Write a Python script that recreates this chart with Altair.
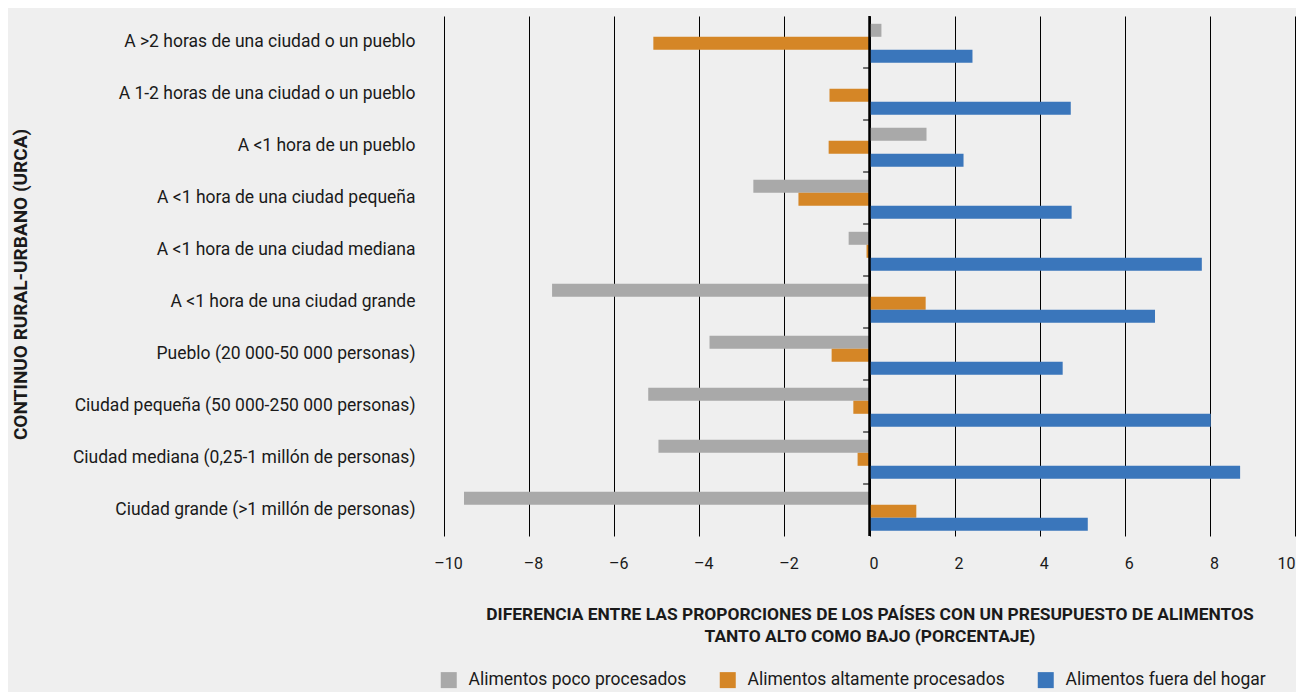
import altair as alt
import pandas as pd

categories = [
    "A >2 horas de una ciudad o un pueblo",
    "A 1-2 horas de una ciudad o un pueblo",
    "A <1 hora de un pueblo",
    "A <1 hora de una ciudad pequeña",
    "A <1 hora de una ciudad mediana",
    "A <1 hora de una ciudad grande",
    "Pueblo (20 000-50 000 personas)",
    "Ciudad pequeña (50 000-250 000 personas)",
    "Ciudad mediana (0,25-1 millón de personas)",
    "Ciudad grande (>1 millón de personas)",
]
series = [
    "Alimentos poco procesados",
    "Alimentos altamente procesados",
    "Alimentos fuera del hogar",
]
poco = [0.28, 0.0, 1.34, -2.73, -0.49, -7.46, -3.76, -5.20, -4.96, -9.53]
alta = [-5.08, -0.94, -0.96, -1.67, -0.07, 1.32, -0.89, -0.38, -0.28, 1.10]
fuera = [2.42, 4.73, 2.21, 4.75, 7.81, 6.71, 4.54, 8.02, 8.71, 5.13]
colors = ["#A9A9A9", "#D58626", "#3A76BB"]
x_ticks = [-10, -8, -6, -4, -2, 0, 2, 4, 6, 8, 10]

x_title = [
    "DIFERENCIA ENTRE LAS PROPORCIONES DE LOS PAÍSES CON UN PRESUPUESTO DE ALIMENTOS",
    "TANTO ALTO COMO BAJO (PORCENTAJE)",
]
y_title = "CONTINUO RURAL-URBANO (URCA)"

rows = []
for i, c in enumerate(categories):
    for s, vals in zip(series, [poco, alta, fuera]):
        rows.append({"cat": c, "serie": s, "valor": vals[i]})
df = pd.DataFrame(rows)
tick_df = pd.DataFrame({"cat": categories[1:]})
zero_df = pd.DataFrame({"cero": [0]})

FONT = "Roboto"
TXT = "#1a1a1a"

yscale = alt.Scale(domain=categories, paddingInner=0, paddingOuter=0)
xscale = alt.Scale(domain=[-10, 10], nice=False, zero=False)

bars = alt.Chart(df).mark_bar().encode(
    y=alt.Y(
        "cat:N",
        scale=yscale,
        sort=categories,
        axis=alt.Axis(
            title=y_title,
            titleFont=FONT,
            titleFontSize=19,
            titleFontWeight="bold",
            titleColor=TXT,
            titleX=-424,
            titleY=268,
            titleAngle=270,
            titleAlign="center",
            titleBaseline="middle",
            labelFont=FONT,
            labelFontSize=17.5,
            labelColor=TXT,
            labelPadding=29,
            labelLimit=420,
            domain=False,
            ticks=False,
            tickSize=0,
            grid=False,
        ),
    ),
    yOffset=alt.YOffset(
        "serie:N",
        sort=series,
        scale=alt.Scale(domain=series, paddingInner=0, paddingOuter=0.5, align=0.6),
    ),
    x=alt.X(
        "valor:Q",
        scale=xscale,
        axis=alt.Axis(
            values=x_ticks,
            grid=True,
            gridColor="#000000",
            gridWidth=1,
            domain=False,
            ticks=False,
            tickSize=0,
            labelFont=FONT,
            labelFontSize=16,
            labelColor=TXT,
            labelPadding=19,
            labelOffset={"condition": {"test": "datum.value == 10", "value": 0}, "value": 4},
            labelAlign={"condition": {"test": "datum.value == 10", "value": "right"}, "value": "center"},
            labelFlush=False,
            labelOverlap=False,
            labelExpr="datum.value < 0 ? '–' + format(-datum.value, 'd') : format(datum.value, 'd')",
            title=x_title,
            titleFont=FONT,
            titleFontSize=17.4,
            titleFontWeight="bold",
            titleColor=TXT,
            titleX=425.5,
            titleY=69,
            titleAlign="center",
            titleBaseline="top",
            titleLineHeight=22,
            titleLimit=900,
        ),
    ),
    color=alt.Color(
        "serie:N",
        scale=alt.Scale(domain=series, range=colors),
        legend=alt.Legend(
            title=None,
            orient="none",
            legendX=-4,
            legendY=655,
            direction="horizontal",
            symbolType="square",
            symbolSize=256,
            symbolStrokeWidth=0,
            labelFont=FONT,
            labelFontSize=17.5,
            labelColor=TXT,
            labelOffset=11,
            columnPadding=32,
            labelLimit=400,
        ),
    ),
)

ticks = alt.Chart(tick_df).mark_rule(color="#444444", strokeWidth=1.5).encode(
    y=alt.Y("cat:N", scale=yscale, sort=categories, bandPosition=0),
    x=alt.XDatum(-0.15, type="quantitative"),
    x2=alt.X2Datum(0),
)

zero = alt.Chart(zero_df).mark_rule(color="#000000", strokeWidth=2.5).encode(
    x=alt.X("cero:Q"),
)

chart = (
    alt.layer(bars, ticks, zero)
    .properties(
        width=851,
        height=520,
        autosize=alt.AutoSizeParams(type="none"),
        padding={"left": 436, "top": 8, "right": 1, "bottom": 156},
        background="#efefef",
    )
    .configure_view(stroke=None)
)

chart.save("out.html", embed_options={"renderer": "svg", "actions": False})
